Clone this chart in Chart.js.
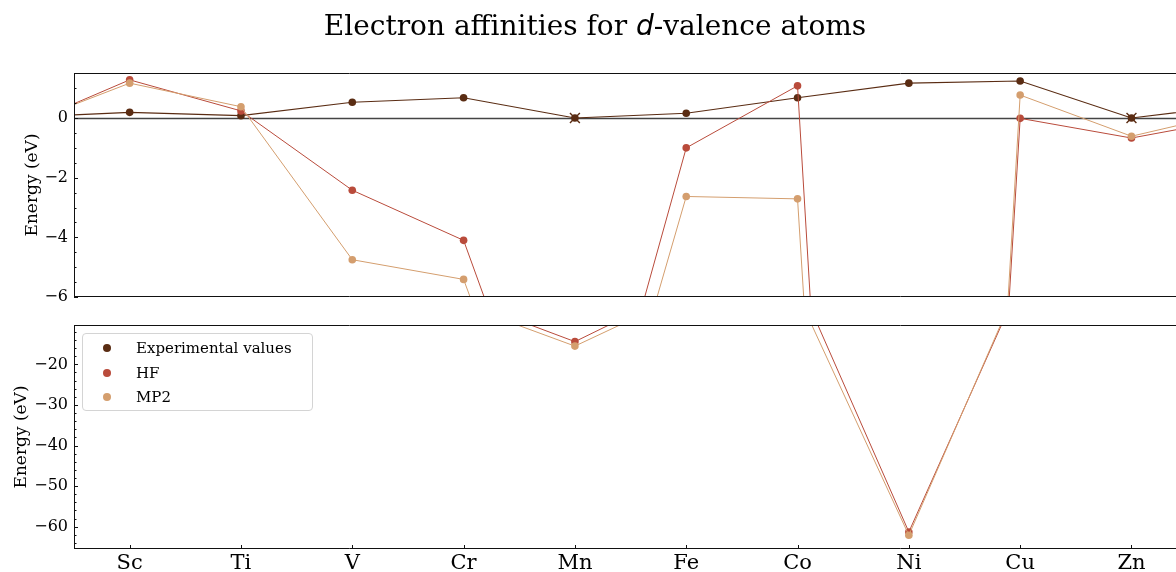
<!DOCTYPE html>
<html>
<head>
<meta charset="utf-8">
<script src="https://cdn.jsdelivr.net/npm/chart.js@4.4.0/dist/chart.umd.min.js"></script>
<style>
  html, body { margin: 0; padding: 0; background: #fff; }
  body { width: 1176px; height: 572px; position: relative; overflow: hidden; font-family: "DejaVu Serif", serif; }
  #topChart { position: absolute; left: 0; top: 0; }
  #bottomChart { position: absolute; left: 0; top: 310px; }
  #title { position: absolute; left: 7px; top: 11px; width: 1176px; text-align: center;
           font-size: 28px; line-height: 30px; color: #000; }
  #title i { font-family: "DejaVu Sans", sans-serif; }
  #legend { position: absolute; left: 82px; top: 333px; width: 229px; height: 76px;
            border: 1px solid #d4d4d4; border-radius: 4px; background: rgba(255,255,255,0.8); }
  #legend .row { position: absolute; left: 0; height: 20px; line-height: 20px; font-size: 15px; white-space: nowrap; }
  #legend .dot { position: absolute; left: 20px; top: 6px; width: 8px; height: 8px; border-radius: 50%; }
  #legend .txt { position: absolute; left: 53px; top: 0; }
</style>
</head>
<body>
<canvas id="topChart" width="1176" height="310"></canvas>
<canvas id="bottomChart" width="1176" height="262"></canvas>
<div id="title">Electron affinities for <i>d</i>-valence atoms</div>
<div id="legend"></div>
<script>
// atoms along the x axis; Ca and Ga sit just outside the visible range
const atoms = ["Ca", "Sc", "Ti", "V", "Cr", "Mn", "Fe", "Co", "Ni", "Cu", "Zn", "Ga"];
const tickAtoms = ["Sc", "Ti", "V", "Cr", "Mn", "Fe", "Co", "Ni", "Cu", "Zn"];

const expValues = [0.02, 0.19, 0.08, 0.53, 0.68, 0, 0.16, 0.68, 1.17, 1.24, 0, 0.45];
const hfValues  = [-0.32, 1.28, 0.24, -2.42, -4.10, -14.4, -1.0, 1.08, -61.3, -0.01, -0.67, 0.02];
const mp2Values = [-0.27, 1.17, 0.38, -4.75, -5.41, -15.5, -2.63, -2.71, -62.1, 0.77, -0.61, 0.26];
// no bound anion: marked with a cross
const unboundValues = [null, null, null, null, null, 0, null, null, null, null, 0, null];

const topTicks = [-6, -4, -2, 0];
const bottomTicks = [-60, -50, -40, -30, -20];

const colors = { exp: "#5a2c13", hf: "#b94b3b", mp2: "#d49e6e" };

Chart.defaults.font.family = "'DejaVu Serif', serif";
Chart.defaults.color = "#000";

function points(values) {
  return values.map((v, i) => ({ x: i - 1, y: v }));
}

function makeDatasets() {
  return [
    { label: "Experimental values", data: points(expValues), borderColor: colors.exp, backgroundColor: colors.exp,
      borderWidth: 1.1, pointRadius: 3.8, pointBorderWidth: 0, order: 2, clip: 0 },
    { label: "HF", data: points(hfValues), borderColor: colors.hf, backgroundColor: colors.hf,
      borderWidth: 1, pointRadius: 3.8, pointBorderWidth: 0, order: 1, clip: 0 },
    { label: "MP2", data: points(mp2Values), borderColor: colors.mp2, backgroundColor: colors.mp2,
      borderWidth: 1, pointRadius: 3.8, pointBorderWidth: 0, order: 0, clip: 0 },
    { label: "", data: points(unboundValues), showLine: false, pointStyle: "crossRot", pointRadius: 7,
      pointBorderWidth: 1.4, borderColor: colors.exp, backgroundColor: colors.exp, order: -1, clip: 0 }
  ];
}

// spines, inward ticks and the zero line
const frame = {
  id: "frame",
  beforeDatasetsDraw(chart, args, opts) {
    if (!opts.zeroLine) return;
    const { ctx, chartArea: a, scales: { y } } = chart;
    const py = Math.round(y.getPixelForValue(0)) + 0.5;
    ctx.save();
    ctx.strokeStyle = "#444";
    ctx.lineWidth = 1.3;
    ctx.beginPath();
    ctx.moveTo(a.left, py);
    ctx.lineTo(a.right, py);
    ctx.stroke();
    ctx.restore();
  },
  afterDatasetsDraw(chart, args, opts) {
    const { ctx, chartArea: a, scales: { x, y } } = chart;
    ctx.save();
    ctx.strokeStyle = "#111";
    ctx.lineWidth = 1;
    ctx.beginPath();
    ctx.moveTo(a.left + 0.5, a.top);
    ctx.lineTo(a.left + 0.5, a.bottom);
    ctx.moveTo(a.left, a.top + 0.5);
    ctx.lineTo(a.right, a.top + 0.5);
    ctx.moveTo(a.left, a.bottom - 0.5);
    ctx.lineTo(a.right, a.bottom - 0.5);
    y.ticks.forEach(t => {
      const py = Math.round(y.getPixelForValue(t.value)) + 0.5;
      ctx.moveTo(a.left, py);
      ctx.lineTo(a.left + 4, py);
    });
    const step = opts.minor;
    for (let k = Math.ceil(y.min / step); k * step <= y.max; k++) {
      const v = k * step;
      if (Math.abs(v / opts.major - Math.round(v / opts.major)) < 1e-9) continue;
      const py = Math.round(y.getPixelForValue(v)) + 0.5;
      ctx.moveTo(a.left, py);
      ctx.lineTo(a.left + 2.5, py);
    }
    if (opts.xTicks) {
      x.ticks.forEach(t => {
        const px = Math.round(x.getPixelForValue(t.value)) + 0.5;
        ctx.moveTo(px, a.bottom);
        ctx.lineTo(px, a.bottom - 4);
      });
    }
    ctx.stroke();
    ctx.restore();
  }
};

function minusSign(v) {
  return String(v).replace("-", "\u2212");
}

function xScale(showLabels) {
  return {
    type: "linear",
    min: -0.5,
    max: 9.4,
    display: showLabels,
    grid: { display: false, drawTicks: false },
    border: { display: false },
    afterBuildTicks: s => { s.ticks = tickAtoms.map((n, i) => ({ value: i })); },
    afterFit: s => { s.height = showLabels ? 23 : 0; },
    ticks: { font: { size: 21 }, padding: 2, maxRotation: 0, autoSkip: false,
             callback: v => tickAtoms[v] }
  };
}

function yScale(min, max, ticks, titlePad) {
  return {
    min: min,
    max: max,
    grid: { display: false, drawTicks: false },
    border: { display: false },
    afterBuildTicks: s => { s.ticks = ticks.map(v => ({ value: v })); },
    afterFit: s => { s.width = 74; s.paddingTop = 0; s.paddingBottom = 0; },
    ticks: { font: { size: 16 }, padding: 6, callback: v => minusSign(v) },
    title: { display: true, text: "Energy (eV)", font: { size: 17 }, padding: { top: titlePad, bottom: 0 } }
  };
}

const topChart = new Chart(document.getElementById("topChart"), {
  type: "line",
  data: { datasets: makeDatasets() },
  options: {
    responsive: false,
    animation: false,
    layout: { autoPadding: false, padding: { top: 73, bottom: 13, left: 0, right: 0 } },
    scales: { x: xScale(false), y: yScale(-6, 1.51, topTicks, 22) },
    plugins: {
      legend: { display: false },
      tooltip: { enabled: false },
      frame: { minor: 0.5, major: 2, zeroLine: true, xTicks: false }
    }
  },
  plugins: [frame]
});

const bottomChart = new Chart(document.getElementById("bottomChart"), {
  type: "line",
  data: { datasets: makeDatasets() },
  options: {
    responsive: false,
    animation: false,
    layout: { autoPadding: false, padding: { top: 15, bottom: 0, left: 0, right: 0 } },
    scales: { x: xScale(true), y: yScale(-65.5, -10.3, bottomTicks, 11) },
    plugins: {
      legend: { display: false },
      tooltip: { enabled: false },
      frame: { minor: 2, major: 10, zeroLine: false, xTicks: true }
    }
  },
  plugins: [frame]
});

// html legend built from the chart's datasets
const legend = document.getElementById("legend");
bottomChart.data.datasets.filter(d => d.label).forEach((d, i) => {
  const row = document.createElement("div");
  row.className = "row";
  row.style.top = (4 + i * 24.5) + "px";
  row.innerHTML = '<span class="dot" style="background:' + d.backgroundColor + '"></span><span class="txt"></span>';
  row.querySelector(".txt").textContent = d.label;
  legend.appendChild(row);
});
</script>
</body>
</html>
